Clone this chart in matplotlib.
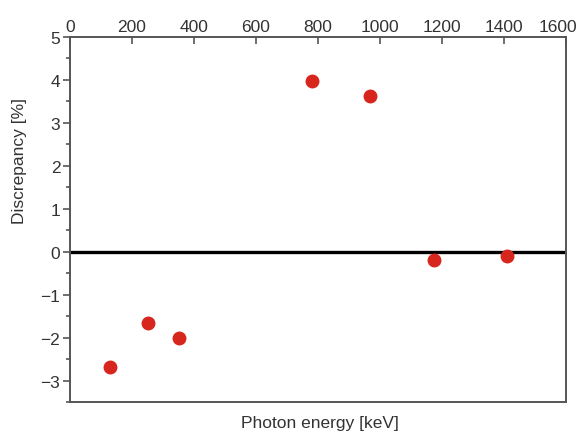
#!/usr/bin/env python3

'''discrepancy of measured vs reference efficiency per photon energy'''

import matplotlib
matplotlib.use('Agg')
import matplotlib.pyplot as plt
import matplotlib.transforms as mtransforms
from matplotlib.ticker import MultipleLocator

plt.rcParams['font.family'] = ['Liberation Sans', 'DejaVu Sans']

energy = [130, 252, 350, 782, 968, 1175, 1410]   # keV
discrepancy = [-2.69, -1.66, -2.02, 3.97, 3.63, -0.20, -0.10]  # percent

x_ticks = [0, 200, 400, 600, 800, 1000, 1200, 1400, 1600]
y_ticks = [-3, -2, -1, 0, 1, 2, 3, 4, 5]

AXCOL = '#555555'
TXTCOL = '#333333'
FS = 12.5

fig = plt.figure(figsize=(5.8, 4.35), dpi=100)
ax = fig.add_axes([0.1207, 0.0736, 0.8553, 0.839])

ax.axhline(0, color='black', lw=2.4, zorder=2)
ax.plot(energy, discrepancy, 'o', color='#d7261e', ms=9, mec='#d7261e', zorder=3)

ax.set_xlim(0, 1600)
ax.set_ylim(-3.5, 5)

# energy axis is labelled along the top edge
ax.xaxis.tick_top()
ax.set_xticks(x_ticks)
ax.tick_params(axis='x', direction='in', length=5, width=1.2, colors=AXCOL,
               labelcolor=TXTCOL, labelsize=FS, pad=2)
ax.set_yticks(y_ticks)
ax.yaxis.set_minor_locator(MultipleLocator(0.5))
ax.tick_params(axis='y', which='major', direction='out', length=5, width=1.2,
               colors=AXCOL, labelcolor=TXTCOL, labelsize=FS, pad=2)
ax.tick_params(axis='y', which='minor', direction='out', length=3, width=1.2,
               colors=AXCOL)
for s in ax.spines.values():
    s.set_color(AXCOL)
    s.set_linewidth(1.4)

# nudge the last top label so it stays inside the figure
last = ax.xaxis.get_majorticklabels()[-1]
last.set_transform(last.get_transform() +
                   mtransforms.ScaledTranslation(-6 / 72, 0, fig.dpi_scale_trans))

fig.text(0.034, 0.63, 'Discrepancy [%]', fontsize=FS, color=TXTCOL,
         rotation=90, ha='center', va='center')
fig.text(0.551, 0.026, 'Photon energy [keV]', fontsize=FS, color=TXTCOL,
         ha='center', va='center')

fig.savefig('out.png', dpi=100)
